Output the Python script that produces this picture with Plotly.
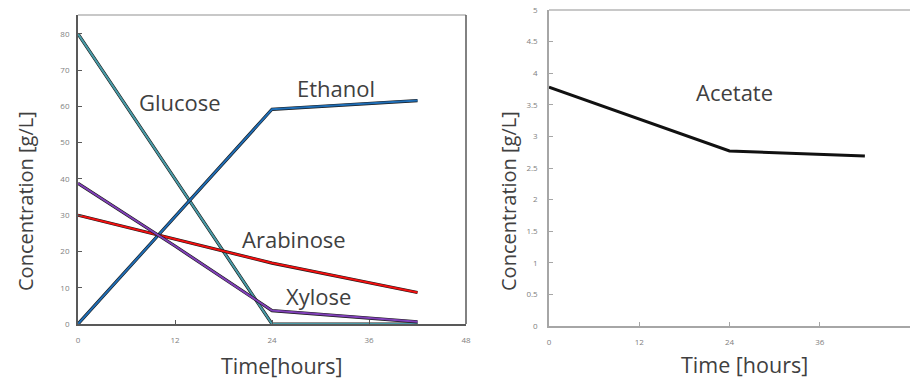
import plotly.graph_objects as go

# ---- data ----
time_left = [0, 12, 24, 42]
glucose = [80, 40, 0, 0]
ethanol = [0, 29.5, 59.2, 61.6]
arabinose = [30, 23.3, 16.8, 8.7]
xylose = [38.8, 21.5, 3.7, 0.6]

time_right = [0, 12, 24, 42]
acetate = [3.78, 3.27, 2.77, 2.69]

x_ticks = [0, 12, 24, 36, 48]
y_ticks_left = [0, 10, 20, 30, 40, 50, 60, 70, 80]
y_ticks_right = [0, 0.5, 1, 1.5, 2, 2.5, 3, 3.5, 4, 4.5, 5]
y_tick_text_right = ["0", "0.5", "1", "1.5", "2", "2.5", "3", "3.5", "4", "4.5", "5"]

W, H = 910, 380
FONT = "Open Sans"
TXT = "#404040"
TICKC = "#808080"

fig = go.Figure()

left_series = [
    ("Glucose", glucose, "#4a9ca8"),
    ("Ethanol", ethanol, "#1f6db5"),
    ("Arabinose", arabinose, "#f01010"),
    ("Xylose", xylose, "#8040b8"),
]
for name, vals, col in left_series:
    fig.add_trace(go.Scatter(x=time_left, y=vals, mode="lines", xaxis="x", yaxis="y",
                             line=dict(color="#1a1a1a", width=3.2), showlegend=False,
                             hoverinfo="skip"))
    fig.add_trace(go.Scatter(x=time_left, y=vals, mode="lines", name=name, xaxis="x", yaxis="y",
                             line=dict(color=col, width=2), showlegend=False))

fig.add_trace(go.Scatter(x=time_right, y=acetate, mode="lines", name="Acetate",
                         xaxis="x2", yaxis="y2", line=dict(color="#111111", width=3),
                         showlegend=False))

def px_x(p):
    return p / W

def px_y(p):
    return (H - p) / H

tickfont = dict(family=FONT, size=8, color=TICKC)

fig.update_layout(
    width=W, height=H,
    margin=dict(l=0, r=0, t=0, b=0, autoexpand=False),
    paper_bgcolor="white", plot_bgcolor="white",
    font=dict(family=FONT, color=TXT),
    xaxis=dict(domain=[px_x(78), px_x(466)], range=[0, 48], tickvals=x_ticks,
               ticks="inside", ticklen=4, tickcolor="#595959", showgrid=False, zeroline=False,
               showline=True, linecolor="#595959", linewidth=1.5, tickfont=tickfont,
               ticklabelstandoff=8, anchor="y", automargin=False),
    yaxis=dict(domain=[px_y(324), px_y(15)], range=[0, 85.2], tickvals=y_ticks_left,
               ticks="inside", ticklen=4, tickcolor="#595959", showgrid=False, zeroline=False,
               showline=True, linecolor="#595959", linewidth=1.8, tickfont=tickfont,
               ticklabelstandoff=5, anchor="x", automargin=False),
    xaxis2=dict(domain=[px_x(549), 1.0], range=[0, 48], tickvals=x_ticks,
                ticks="inside", ticklen=4, tickcolor="#a6a6a6", showgrid=False, zeroline=False,
                showline=True, linecolor="#a6a6a6", linewidth=1.5, tickfont=tickfont,
                ticklabelstandoff=8, anchor="y2", automargin=False),
    yaxis2=dict(domain=[px_y(326), px_y(10)], range=[0, 5], tickvals=y_ticks_right,
                ticktext=y_tick_text_right,
                ticks="inside", ticklen=4, tickcolor="#a6a6a6", showgrid=False, zeroline=False,
                showline=True, linecolor="#a6a6a6", linewidth=1.5, tickfont=tickfont,
                ticklabelstandoff=8, anchor="x2", automargin=False),
)

# frame borders
fig.add_shape(type="line", xref="x domain", yref="y domain", x0=0, x1=1, y0=1, y1=1,
              line=dict(color="#c8c8c8", width=2))
fig.add_shape(type="line", xref="x domain", yref="y domain", x0=1, x1=1, y0=0, y1=1,
              line=dict(color="#595959", width=1.5))
fig.add_shape(type="line", xref="x2 domain", yref="y2 domain", x0=0, x1=1, y0=1, y1=1,
              line=dict(color="#c8c8c8", width=2))

lab = dict(family=FONT, size=22, color=TXT)
# series labels
for text, xx, yy in [("Glucose", 12.6, 61.2), ("Ethanol", 31.9, 65.1),
                     ("Arabinose", 26.7, 23.4), ("Xylose", 29.7, 7.7)]:
    fig.add_annotation(text=text, x=xx, y=yy, xref="x", yref="y", showarrow=False, font=lab,
                       xanchor="center", yanchor="middle")
fig.add_annotation(text="Acetate", x=24.7, y=3.70, xref="x2", yref="y2", showarrow=False, font=lab,
                   xanchor="center", yanchor="middle")

# axis titles
ttl = dict(family=FONT, size=20, color=TXT)
ttlx = dict(family=FONT, size=21.5, color=TXT)
for text, px, py, ang, f in [("Concentration [g/L]", 25, 201, -90, ttl),
                             ("Concentration [g/L]", 508, 201, -90, ttl),
                             ("Time[hours]", 282, 365, 0, ttlx),
                             ("Time [hours]", 744, 364, 0, ttlx)]:
    fig.add_annotation(text=text, x=px_x(px), y=px_y(py), xref="paper", yref="paper",
                       showarrow=False, textangle=ang, font=f,
                       xanchor="center", yanchor="middle")

fig.write_html("out.html", config={"displayModeBar": False},
               post_script="document.body.style.margin='0';document.body.style.overflow='hidden';")
